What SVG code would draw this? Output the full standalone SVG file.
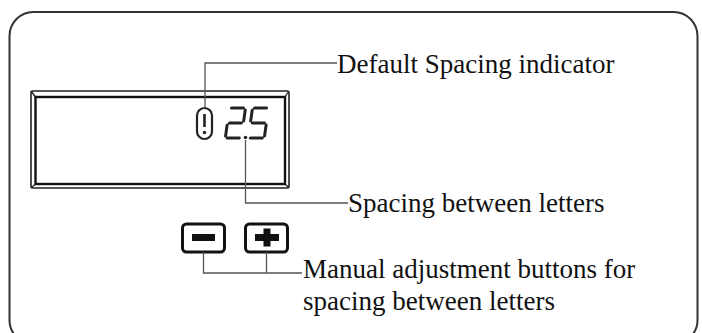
<svg xmlns="http://www.w3.org/2000/svg" width="702" height="333" viewBox="0 0 702 333">
<style>
.lbl{font-family:"Liberation Serif","Times New Roman",serif;font-size:27px;fill:#111}
.conn{fill:none;stroke:#555;stroke-width:1.3}
.seg{stroke:#222;stroke-width:3;stroke-linecap:round;fill:none}
.btn{fill:#fff;stroke:#111;stroke-width:3}
</style>
<rect width="702" height="333" fill="#fff"/>
<rect id="frame" x="9.5" y="12" width="688" height="332" rx="24" fill="none" stroke="#333" stroke-width="2"/>
<g id="lcd">
<rect x="31" y="91" width="258" height="97" rx="2" fill="#fff" stroke="#222" stroke-width="1.6"/>
<rect x="35.5" y="97" width="249.5" height="87" fill="none" stroke="#111" stroke-width="2.4"/>
<path d="M31 91L35.5 97M289 91L285 97M289 188L285 184M31 188L35.5 184" stroke="#222" stroke-width="1.3"/>
<g id="indicator">
<rect x="197" y="108" width="15" height="31" rx="7.5" fill="none" stroke="#222" stroke-width="2.2"/>
<line x1="204.5" y1="114" x2="204.5" y2="127" stroke="#222" stroke-width="2.6"/>
<circle cx="204.5" cy="132.5" r="1.7" fill="#222"/>
</g>
<g id="digits">
<g transform="translate(229,108) skewX(-8)">
<path class="seg" d="M2.5 0H14.5M16.5 2V13M14.5 15H2.5M0.5 17V28M2.5 30H14.5"/>
</g>
<circle cx="245.5" cy="137.5" r="1.8" fill="#222"/>
<g transform="translate(252,108) skewX(-8)">
<path class="seg" d="M14.5 0H2.5M0.5 2V13M2.5 15H14.5M16.5 17V28M14.5 30H2.5"/>
</g>
</g>
</g>
<g id="buttons">
<g id="minus">
<rect class="btn" x="182.5" y="224" width="42" height="28" rx="4"/>
<rect x="192" y="234" width="23" height="7" fill="#111"/>
</g>
<g id="plus">
<rect class="btn" x="245.5" y="224" width="42" height="28" rx="4"/>
<rect x="255" y="234" width="24" height="7" fill="#111"/>
<rect x="263.5" y="228.5" width="7" height="18" fill="#111"/>
</g>
</g>
<g id="connectors">
<path class="conn" d="M205 108V63H337"/>
<path class="conn" d="M245.5 140V203H348"/>
<path class="conn" d="M203.5 252V273H302M266.5 252V273"/>
</g>
<g id="labels">
<text class="lbl" x="337" y="73">Default Spacing indicator</text>
<text class="lbl" x="348" y="212">Spacing between letters</text>
<text class="lbl" x="303" y="278">Manual adjustment buttons for</text>
<text class="lbl" x="303" y="310">spacing between letters</text>
</g>
</svg>
